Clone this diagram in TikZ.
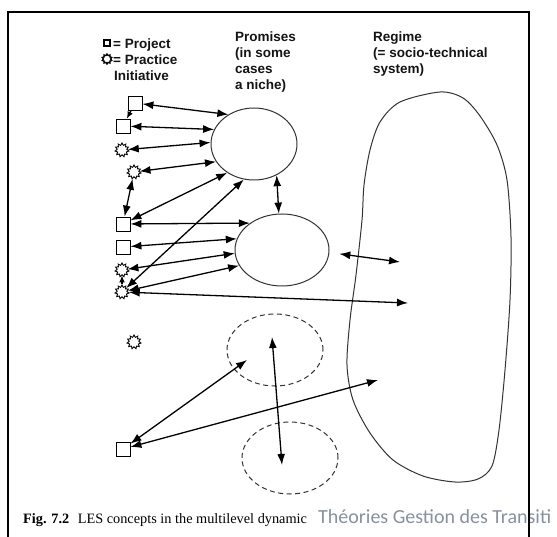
\documentclass[tikz,border=0pt]{standalone}
\usepackage{fontspec}
\setmainfont{Liberation Serif}
\newfontfamily\labfont{Liberation Sans}
\newfontfamily\grayfont{Carlito}
\usetikzlibrary{arrows.meta,shapes.geometric}
\definecolor{graytxt}{RGB}{135,145,160}
\begin{document}
\begin{tikzpicture}[x=1pt,y=-1pt,
 proj/.style={draw, rectangle, minimum size=14pt, inner sep=0, line width=0.8pt},
 prac/.style={draw, star, star points=11, star point ratio=1.45, minimum size=14pt, inner sep=0, line width=0.9pt},
 prom/.style={draw=black!80, ellipse, inner sep=0, line width=1pt},
 dprom/.style={prom, dash pattern=on 5pt off 3.5pt},
 link/.style={line width=1.3pt, {Latex[length=11pt,width=8pt]}-{Latex[length=11pt,width=8pt]}},
 onelink/.style={line width=1.3pt, -{Latex[length=7pt,width=6pt]}},
 lab/.style={font=\labfont\bfseries\fontsize{13.5}{16}\selectfont, align=left, inner sep=0, anchor=north west, text=black!92}
]
\useasboundingbox (0,0) rectangle (557,537);
\fill[white] (0,0) rectangle (557,537);

% legend and headings
\node[draw, rectangle, minimum size=6pt, inner sep=0, line width=1.6pt] (lsq) at (107,43) {};
\node[draw, star, star points=10, star point ratio=1.4, minimum size=10pt, inner sep=0, line width=1.3pt] (lst) at (107,59) {};
\node[lab] (leg) at (113,39) {= Project\\= Practice\\\hspace*{1pt}Initiative};
\node[lab] (prm) at (235,32) {Promises\\(in some\\cases\\a niche)};
\node[lab] (rgm) at (373,32) {Regime\\(= socio-technical\\system)};

% projects and practices
\node[proj] (sq1) at (135,103) {};
\node[proj] (sq2) at (123,126) {};
\node[prac] (st1) at (122,150) {};
\node[prac] (st2) at (134,172) {};
\node[proj] (sq3) at (123,224) {};
\node[proj] (sq4) at (123,247) {};
\node[prac] (st3) at (122,270) {};
\node[prac] (st4) at (122,292) {};
\node[prac] (st5) at (134,342) {};
\node[proj] (sq5) at (123,449) {};

% promises
\node[prom, minimum width=86pt, minimum height=72pt] (eA) at (254,144) {};
\node[prom, minimum width=94pt, minimum height=72pt] (eB) at (282,250) {};
\node[dprom, minimum width=96pt, minimum height=72pt] (eC) at (275,350) {};
\node[dprom, minimum width=96pt, minimum height=72pt] (eD) at (290,458) {};

% regime
\draw[line width=1pt, black!80] plot[smooth cycle] coordinates {
 (440,92) (463,98) (480,116) (497,145) (507,180) (511,237) (510,300) (505,370)
 (499,430) (492,466) (478,479) (455,482) (423,476) (393,460) (370,433) (353,400)
 (347,365) (350,320) (356,275) (362,220) (364,185) (370,150) (380,122) (400,102)};

\coordinate (rg1) at (400,262);
\coordinate (rg2) at (408,303);
\coordinate (rg3) at (378,380);
\coordinate (cC) at (272,337);
\coordinate (cD) at (282,465);
\coordinate (cE) at (247,360);

% connectors
\draw[link] (sq1) -- (eA.131);
\draw[onelink] (sq1) -- (sq2);
\draw[link] (sq2) -- (eA.160);
\draw[link] (st1) -- (eA.178);
\draw[link] (st2) -- (eA.205);
\draw[link] (st2) -- (sq3);
\draw[link] (sq3) -- (eA.227);
\draw[link] (sq3) -- (eB.140);
\draw[link] (sq4) -- (eB.166);
\draw[link] (st3) -- (eB.184);
\draw[link] (st4) -- (eB.200);
\draw[link] (st4) -- (eA.254);
\draw[link] (st4) -- (rg2);
\draw[onelink] (st4) -- (st3);
\draw[link] (eA.306) -- (eB.95);
\draw[link, shorten <=10pt] (eB.357) -- (rg1);
\draw[link] (sq5) -- (cE);
\draw[link] (sq5) -- (rg3);
\draw[link] (cC) -- (cD);

% caption
\node[anchor=base west, inner sep=0, font=\fontsize{14.3}{17}\selectfont] (cap) at (23,523) {\textbf{Fig. 7.2}\hspace{0.6em}LES concepts in the multilevel dynamic};
\begin{scope}
\clip (0,0) rectangle (557,537);
\node[anchor=base west, inner sep=0, font=\grayfont\fontsize{20}{24}\selectfont, text=graytxt] (wm) at (318,523) {Théories Gestion des Transiti};
\end{scope}

% frame
\draw[line width=2pt] (8,537) -- (8,12) -- (529,12) -- (529,537);
\end{tikzpicture}
\end{document}
